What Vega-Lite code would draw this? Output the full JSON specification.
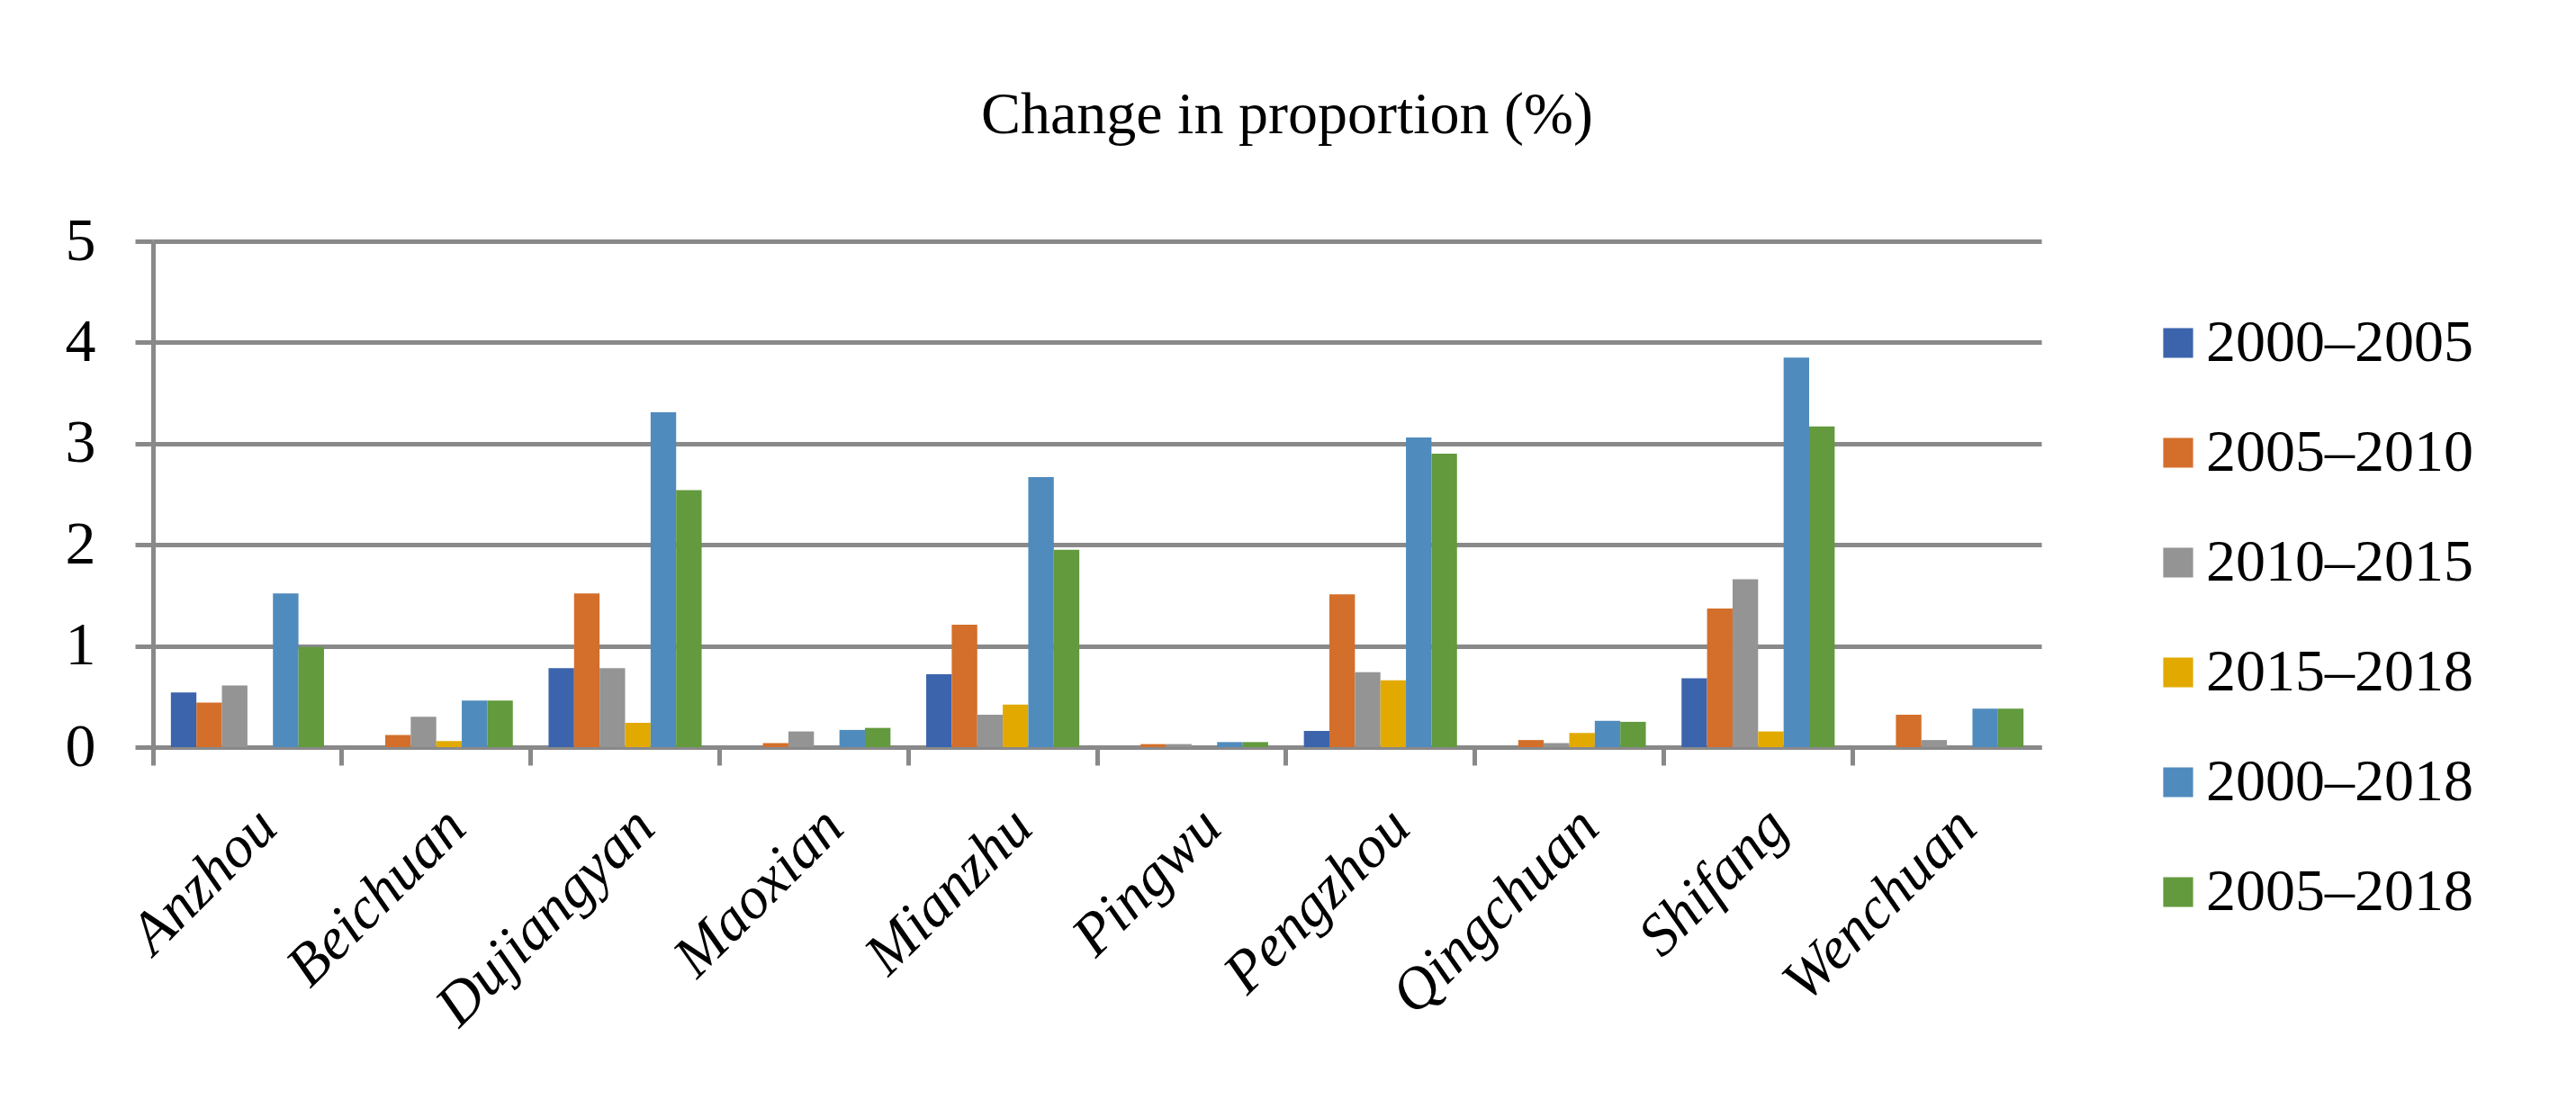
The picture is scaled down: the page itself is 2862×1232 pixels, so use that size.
{
  "$schema": "https://vega.github.io/schema/vega-lite/v6.json",
  "autosize": {"type": "none"},
  "width": 2098,
  "height": 562,
  "padding": {"left": 170, "top": 268, "right": 594, "bottom": 402},
  "background": "white",
  "title": {
    "text": "Change in proportion (%)",
    "font": "Liberation Serif",
    "fontSize": 66,
    "fontWeight": "normal",
    "color": "black",
    "anchor": "middle",
    "dx": 211,
    "offset": 72
  },
  "data": {
    "values": [
      {"district": "Anzhou", "period": "2000–2005", "value": 0.54},
      {"district": "Anzhou", "period": "2005–2010", "value": 0.44},
      {"district": "Anzhou", "period": "2010–2015", "value": 0.61},
      {"district": "Anzhou", "period": "2015–2018", "value": 0},
      {"district": "Anzhou", "period": "2000–2018", "value": 1.52},
      {"district": "Anzhou", "period": "2005–2018", "value": 0.99},
      {"district": "Beichuan", "period": "2000–2005", "value": 0},
      {"district": "Beichuan", "period": "2005–2010", "value": 0.12},
      {"district": "Beichuan", "period": "2010–2015", "value": 0.30},
      {"district": "Beichuan", "period": "2015–2018", "value": 0.06},
      {"district": "Beichuan", "period": "2000–2018", "value": 0.46},
      {"district": "Beichuan", "period": "2005–2018", "value": 0.46},
      {"district": "Dujiangyan", "period": "2000–2005", "value": 0.78},
      {"district": "Dujiangyan", "period": "2005–2010", "value": 1.52},
      {"district": "Dujiangyan", "period": "2010–2015", "value": 0.78},
      {"district": "Dujiangyan", "period": "2015–2018", "value": 0.24},
      {"district": "Dujiangyan", "period": "2000–2018", "value": 3.31},
      {"district": "Dujiangyan", "period": "2005–2018", "value": 2.54},
      {"district": "Maoxian", "period": "2000–2005", "value": 0},
      {"district": "Maoxian", "period": "2005–2010", "value": 0.04},
      {"district": "Maoxian", "period": "2010–2015", "value": 0.155},
      {"district": "Maoxian", "period": "2015–2018", "value": 0},
      {"district": "Maoxian", "period": "2000–2018", "value": 0.17},
      {"district": "Maoxian", "period": "2005–2018", "value": 0.19},
      {"district": "Mianzhu", "period": "2000–2005", "value": 0.72},
      {"district": "Mianzhu", "period": "2005–2010", "value": 1.21},
      {"district": "Mianzhu", "period": "2010–2015", "value": 0.32},
      {"district": "Mianzhu", "period": "2015–2018", "value": 0.42},
      {"district": "Mianzhu", "period": "2000–2018", "value": 2.67},
      {"district": "Mianzhu", "period": "2005–2018", "value": 1.95},
      {"district": "Pingwu", "period": "2000–2005", "value": 0},
      {"district": "Pingwu", "period": "2005–2010", "value": 0.03},
      {"district": "Pingwu", "period": "2010–2015", "value": 0.03},
      {"district": "Pingwu", "period": "2015–2018", "value": 0},
      {"district": "Pingwu", "period": "2000–2018", "value": 0.05},
      {"district": "Pingwu", "period": "2005–2018", "value": 0.05},
      {"district": "Pengzhou", "period": "2000–2005", "value": 0.16},
      {"district": "Pengzhou", "period": "2005–2010", "value": 1.51},
      {"district": "Pengzhou", "period": "2010–2015", "value": 0.74},
      {"district": "Pengzhou", "period": "2015–2018", "value": 0.66},
      {"district": "Pengzhou", "period": "2000–2018", "value": 3.06},
      {"district": "Pengzhou", "period": "2005–2018", "value": 2.90},
      {"district": "Qingchuan", "period": "2000–2005", "value": 0},
      {"district": "Qingchuan", "period": "2005–2010", "value": 0.07},
      {"district": "Qingchuan", "period": "2010–2015", "value": 0.04},
      {"district": "Qingchuan", "period": "2015–2018", "value": 0.14},
      {"district": "Qingchuan", "period": "2000–2018", "value": 0.26},
      {"district": "Qingchuan", "period": "2005–2018", "value": 0.25},
      {"district": "Shifang", "period": "2000–2005", "value": 0.68},
      {"district": "Shifang", "period": "2005–2010", "value": 1.37},
      {"district": "Shifang", "period": "2010–2015", "value": 1.66},
      {"district": "Shifang", "period": "2015–2018", "value": 0.155},
      {"district": "Shifang", "period": "2000–2018", "value": 3.85},
      {"district": "Shifang", "period": "2005–2018", "value": 3.17},
      {"district": "Wenchuan", "period": "2000–2005", "value": 0},
      {"district": "Wenchuan", "period": "2005–2010", "value": 0.32},
      {"district": "Wenchuan", "period": "2010–2015", "value": 0.07},
      {"district": "Wenchuan", "period": "2015–2018", "value": 0},
      {"district": "Wenchuan", "period": "2000–2018", "value": 0.38},
      {"district": "Wenchuan", "period": "2005–2018", "value": 0.38}
    ]
  },
  "mark": {"type": "bar"},
  "encoding": {
    "x": {
      "field": "district",
      "type": "nominal",
      "sort": ["Anzhou", "Beichuan", "Dujiangyan", "Maoxian", "Mianzhu", "Pingwu", "Pengzhou", "Qingchuan", "Shifang", "Wenchuan"],
      "scale": {"paddingInner": 0, "paddingOuter": 0},
      "axis": {
        "title": null,
        "bandPosition": 0,
        "labelOffset": 22,
        "labelAngle": -45,
        "labelAlign": "right",
        "labelBaseline": "middle",
        "labelFont": "Liberation Serif",
        "labelFontStyle": "italic",
        "labelFontSize": 66,
        "labelColor": "black",
        "labelPadding": 58,
        "labelLimit": 0,
        "labelOverlap": false,
        "domainColor": "#898989",
        "domainWidth": 5,
        "tickColor": "#898989",
        "tickWidth": 5,
        "tickSize": 20,
        "grid": false
      }
    },
    "xOffset": {
      "field": "period",
      "type": "nominal",
      "sort": ["2000–2005", "2005–2010", "2010–2015", "2015–2018", "2000–2018", "2005–2018"],
      "scale": {"paddingInner": 0, "paddingOuter": 0.7}
    },
    "y": {
      "field": "value",
      "type": "quantitative",
      "scale": {"domain": [0, 5], "nice": false},
      "axis": {
        "title": null,
        "values": [0, 1, 2, 3, 4, 5],
        "labelFont": "Liberation Serif",
        "labelFontSize": 68,
        "labelColor": "black",
        "labelPadding": 44,
        "domainColor": "#898989",
        "domainWidth": 5,
        "tickColor": "#898989",
        "tickWidth": 5,
        "tickSize": 20,
        "gridColor": "#898989",
        "gridWidth": 5
      }
    },
    "color": {
      "field": "period",
      "type": "nominal",
      "sort": ["2000–2005", "2005–2010", "2010–2015", "2015–2018", "2000–2018", "2005–2018"],
      "scale": {
        "domain": ["2000–2005", "2005–2010", "2010–2015", "2015–2018", "2000–2018", "2005–2018"],
        "range": ["#3c64ad", "#d36f2b", "#949494", "#e2aa00", "#508bbd", "#629a3d"]
      },
      "legend": {
        "title": null,
        "orient": "none",
        "legendX": 2217,
        "legendY": 80,
        "symbolType": "square",
        "symbolSize": 1100,
        "symbolStrokeWidth": 0,
        "labelFont": "Liberation Serif",
        "labelFontSize": 66,
        "labelColor": "black",
        "labelOffset": -2,
        "labelLimit": 0,
        "rowPadding": 56
      }
    }
  },
  "config": {
    "view": {"stroke": null},
    "bar": {"stroke": null}
  }
}
